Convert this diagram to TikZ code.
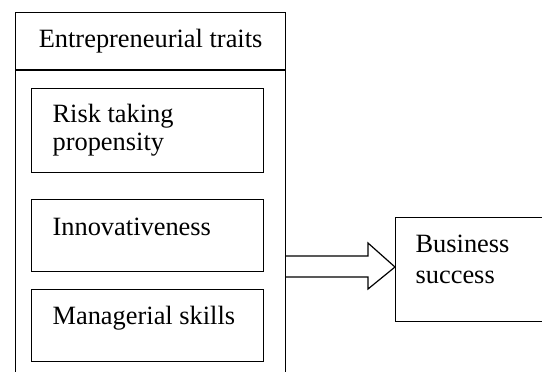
\documentclass[tikz,border=0pt]{standalone}
\usepackage{fontspec}
\setmainfont{Liberation Serif}
\usetikzlibrary{positioning}
\begin{document}
\begin{tikzpicture}[x=0.5pt,y=-0.5pt,line width=0.6pt,font=\fontsize{13.2}{14}\selectfont,line join=miter]
\tikzset{box/.style={draw,rectangle,inner sep=0pt,anchor=north west},
  txt/.style={anchor=base west,inner sep=0pt,align=left}}
\clip (0,0) rectangle (542,371);
\node[box,minimum width=135pt,minimum height=28.5pt] (traits) at (15,12) {};
\node[txt,anchor=center] (ttl) at (traits.center) {Entrepreneurial traits};
\node[box,minimum width=135pt,minimum height=160pt,anchor=north] (body) at (traits.south) {};
\node[box,minimum width=116pt,minimum height=42pt] (risk) at (31,87.5) {};
\node[box,minimum width=116pt,minimum height=36pt] (innov) at (31,199) {};
\node[box,minimum width=116pt,minimum height=36pt] (mgr) at (31,289) {};
\node[box,minimum width=80pt,minimum height=52pt] (biz) at (395,217) {};
% base = last line for the two-line labels
\node[txt] (riskt) at ([shift={(21,62.5)}]risk.north west) {Risk taking\\propensity};
\node[txt] (innovt) at ([shift={(21,36)}]innov.north west) {Innovativeness};
\node[txt] (mgrt) at ([shift={(21,35)}]mgr.north west) {Managerial skills};
\node[txt] (bizt) at ([shift={(20,66)}]biz.north west) {Business\\[1.5pt]success};
% hollow arrow
\draw (body.east|-0,256)--(368,256)--(368,243)--(biz.west|-0,267)--(368,289)--(368,277)--(body.east|-0,277);
\end{tikzpicture}
\end{document}
